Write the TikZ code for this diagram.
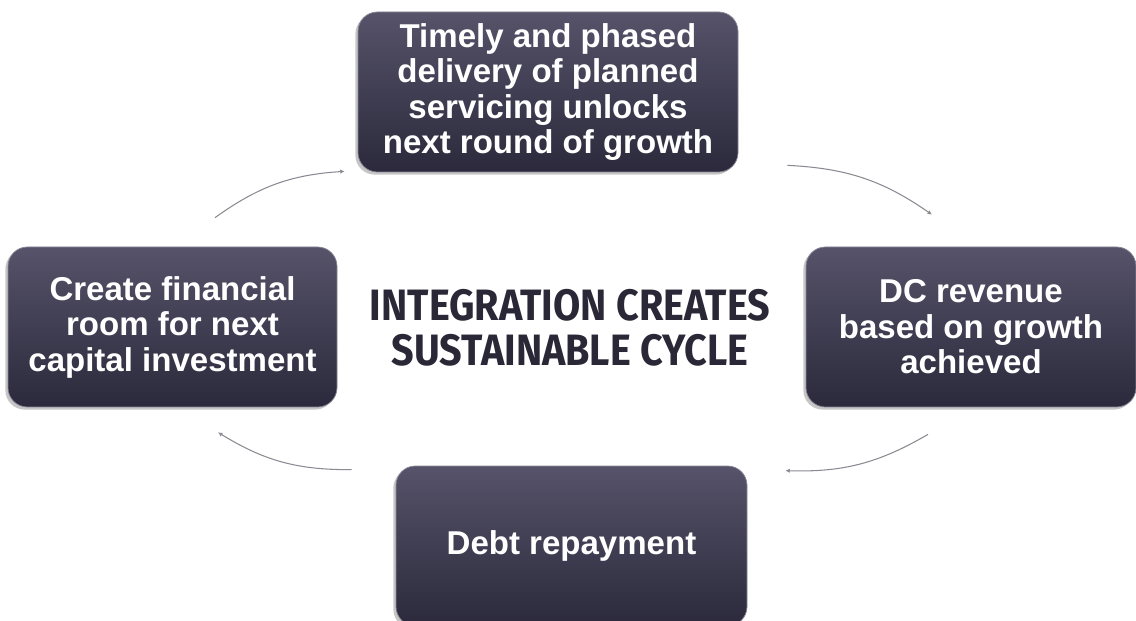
\documentclass[tikz,border=0pt]{standalone}
\usepackage{fontspec}
\setmainfont{Liberation Sans}
\newfontfamily\titlefont[FakeStretch=0.9]{Fira Sans}
\usepackage{tikz}
\usetikzlibrary{arrows.meta,shadows}
\definecolor{boxtop}{HTML}{56536A}
\definecolor{boxbottom}{HTML}{2B293B}
\definecolor{titlecol}{HTML}{2A2836}
\definecolor{linkcol}{HTML}{8A8A92}

\begin{document}
\begin{tikzpicture}[
  x=0.02cm, y=0.02cm,
  stepbox/.style={rounded corners=11pt, top color=boxtop, bottom color=boxbottom,
    draw=boxtop!70!white, line width=0.4pt,
    drop shadow={shadow xshift=-1.5pt, shadow yshift=-1.5pt, opacity=0.45},
    text=white, font=\bfseries\fontsize{18.8}{20.2}\selectfont, align=center,
    inner sep=0pt},
  ]
  \tikzset{%
    link/.style={
      draw=linkcol,
      line width=0.6pt,
      -{Latex[length=2.5pt,width=2.5pt]},
      bend left=16,
    },
  }
  \useasboundingbox (0,0) rectangle (1136,-621);
  %Nodes
  \node[stepbox, minimum width=380*0.02cm, minimum height=160*0.02cm](timely) at (548,-92)
    {Timely and phased\\delivery of planned\\servicing unlocks\\next round of growth};
  \node[stepbox, minimum width=329*0.02cm, minimum height=160*0.02cm](create) at (172.5,-327)
    {Create financial\\room for next\\capital investment};
  \node[stepbox, minimum width=330*0.02cm, minimum height=160*0.02cm](dc) at (971,-327)
    {DC revenue\\based on growth\\achieved};
  \node[stepbox, minimum width=351*0.02cm, minimum height=160*0.02cm](debt) at (571.5,-546)
    {Debt repayment};
  \node[text=titlecol, align=center, font=\titlefont\bfseries\fontsize{25}{25.5}\selectfont](title) at (570,-328)
    {INTEGRATION CREATES\\SUSTAINABLE CYCLE};
  %Lines
  \draw
    % cycle, clockwise
    ([shift={(42.5,29)}]create.north) edge[link] ([shift={(-13,1)}]timely.south west)
    ([shift={(49,7)}]timely.south east) edge[link] ([shift={(-39,32)}]dc.north)
    ([shift={(-43,-27)}]dc.south) edge[link] ([shift={(38,-5)}]debt.north east)
    ([shift={(-44,-4)}]debt.north west) edge[link] ([shift={(45.5,-25)}]create.south)
    ;
\end{tikzpicture}
\end{document}
